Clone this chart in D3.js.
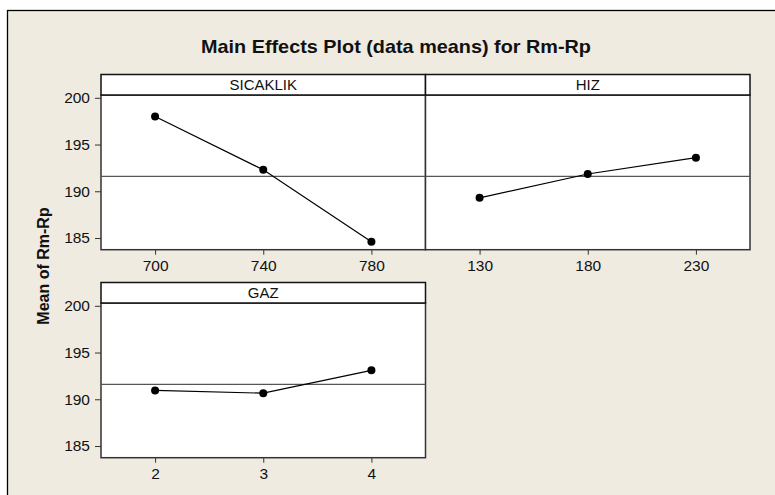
<!DOCTYPE html>
<html>
<head>
<meta charset="utf-8">
<script src="https://cdn.jsdelivr.net/npm/d3@7"></script>
<style>
  body { margin: 0; background: #fff; }
  text { font-family: "Liberation Sans", Arial, sans-serif; fill: #111; }
  .tick text { font-size: 15.5px; }
</style>
</head>
<body>
<svg width="775" height="495"></svg>
<script>
// data
const factors = ['SICAKLIK', 'HIZ', 'GAZ'];
const sicaklikLevels = ['700', '740', '780'];
const sicaklikMeans = [198.0, 192.3, 184.6];
const hizLevels = ['130', '180', '230'];
const hizMeans = [189.3, 191.85, 193.6];
const gazLevels = ['2', '3', '4'];
const gazMeans = [190.95, 190.65, 193.1];
const grandMean = 191.6;
const yTicks = [185, 190, 195, 200];

const levels = [sicaklikLevels, hizLevels, gazLevels];
const means = [sicaklikMeans, hizMeans, gazMeans];

const svg = d3.select('svg');

// frame
svg.append('rect')
  .attr('x', 7.5).attr('y', 10.5)
  .attr('width', 800).attr('height', 500)
  .attr('fill', '#efebe1')
  .attr('stroke', '#000').attr('stroke-width', 1.3);

svg.append('text')
  .attr('x', 396).attr('y', 53)
  .attr('text-anchor', 'middle')
  .attr('font-size', 18.5).attr('font-weight', 'bold')
  .attr('textLength', 390).attr('lengthAdjust', 'spacingAndGlyphs')
  .text('Main Effects Plot (data means) for Rm-Rp');

// panel grid
const left = 101, colW = 324.5;
const headTop = [74.5, 282.5], headH = 20.5, plotH = 154.7;
const cells = [{col: 0, row: 0}, {col: 1, row: 0}, {col: 0, row: 1}];

const y = d3.scaleLinear().domain([183.75, 200.3]).range([plotH, 0]);

factors.forEach((name, i) => {
  const c = cells[i];
  const px = left + c.col * colW;
  const g = svg.append('g')
    .attr('transform', `translate(${px},${headTop[c.row]})`);
  const p = g.append('g').attr('transform', `translate(0,${headH})`);

  const x = d3.scalePoint().domain(levels[i]).range([0, colW]).padding(0.5);

  p.append('rect')
    .attr('width', colW).attr('height', plotH)
    .attr('fill', '#fff').attr('stroke', '#333').attr('stroke-width', 1.5);

  // header strip
  g.append('rect')
    .attr('width', colW).attr('height', headH)
    .attr('fill', '#fff').attr('stroke', '#111').attr('stroke-width', 1.5);
  g.append('text')
    .attr('x', colW / 2).attr('y', headH / 2 + 5.5)
    .attr('text-anchor', 'middle').attr('font-size', 15)
    .text(name);

  // reference line at the grand mean
  p.append('line')
    .attr('x1', 0).attr('x2', colW)
    .attr('y1', y(grandMean)).attr('y2', y(grandMean))
    .attr('stroke', '#555').attr('stroke-width', 1.2);

  const pts = levels[i].map((l, k) => [x(l), y(means[i][k])]);
  p.append('path')
    .attr('d', d3.line()(pts))
    .attr('fill', 'none').attr('stroke', '#000').attr('stroke-width', 1.2);
  p.selectAll('circle').data(pts).enter().append('circle')
    .attr('cx', d => d[0]).attr('cy', d => d[1]).attr('r', 4)
    .attr('fill', '#000');

  const xAxis = p.append('g')
    .attr('transform', `translate(0,${plotH})`)
    .call(d3.axisBottom(x).tickSize(5).tickPadding(5));
  xAxis.attr('font-family', null).attr('font-size', null);
  xAxis.select('.domain').remove();
  xAxis.selectAll('line').attr('stroke', '#333');

  if (c.col === 0) {
    const yAxis = p.append('g')
      .call(d3.axisLeft(y).tickValues(yTicks).tickSize(6).tickPadding(5));
    yAxis.attr('font-family', null).attr('font-size', null);
    yAxis.select('.domain').remove();
    yAxis.selectAll('line').attr('stroke', '#333');
  }
});

svg.append('text')
  .attr('transform', 'translate(49,266) rotate(-90)')
  .attr('text-anchor', 'middle')
  .attr('font-size', 16).attr('font-weight', 'bold')
  .text('Mean of Rm-Rp');
</script>
</body>
</html>
